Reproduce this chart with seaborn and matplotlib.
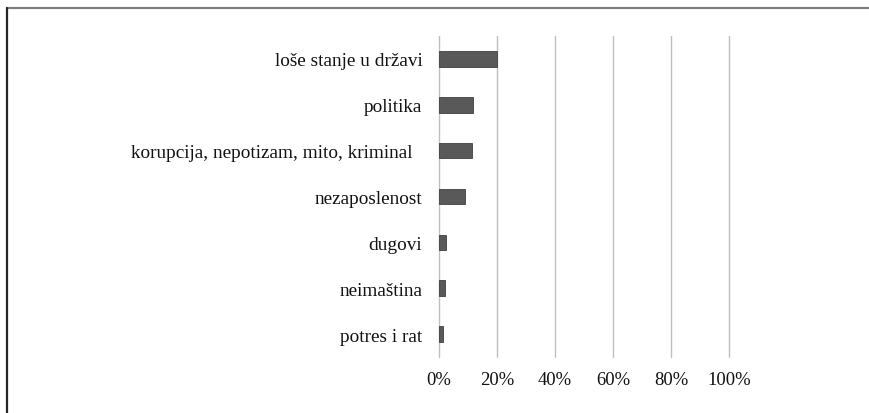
import matplotlib
matplotlib.use("Agg")
import matplotlib.pyplot as plt
import seaborn as sns
import pandas as pd
from matplotlib.lines import Line2D
from matplotlib.ticker import FuncFormatter

categories = ["loše stanje u državi", "politika",
              "korupcija, nepotizam, mito, kriminal  ", "nezaposlenost",
              "dugovi", "neimaština", "potres i rat"]
values = [20.0, 11.8, 11.3, 8.9, 2.3, 2.1, 1.3]
xticks = [0, 20, 40, 60, 80, 100]

df = pd.DataFrame({"category": categories, "value": values})

sns.set_theme(style="white")
plt.rcParams["font.family"] = ["Liberation Serif", "DejaVu Serif"]

fig = plt.figure(figsize=(8.69, 4.14), dpi=100)
ax = fig.add_axes([0.5052, 0.1353, 0.8389 - 0.5052, 0.9106 - 0.1353])

sns.barplot(data=df, x="value", y="category", order=categories, orient="h",
            color="#595959", width=0.34, saturation=1, edgecolor="#3f3f3f",
            linewidth=0.6, ax=ax, zorder=3)

ax.set_xlim(0, 100)
ax.set_ylim(len(categories) - 0.5, -0.5)
ax.set_xticks(xticks)
ax.xaxis.set_major_formatter(FuncFormatter(lambda v, p: f"{v:.0f}%"))
ax.grid(axis="x", color="#bfbfbf", linewidth=1.0, zorder=0)
ax.grid(axis="y", visible=False)
for gl in ax.get_xgridlines():
    gl.set_clip_on(False)
for s in ax.spines.values():
    s.set_visible(False)
ax.tick_params(axis="both", length=0)
ax.tick_params(axis="y", pad=12, labelsize=13.9, labelcolor="#111111")
ax.tick_params(axis="x", pad=10, labelsize=13.4, labelcolor="#111111")
ax.set_xlabel("")
ax.set_ylabel("")

# outer frame (top and left edges visible in the crop)
fig.add_artist(Line2D([0.0086, 1.0], [0.9783, 0.9783], transform=fig.transFigure,
                      color="#7f7f7f", linewidth=1.6))
fig.add_artist(Line2D([0.0086, 0.0086], [0.0, 0.9783], transform=fig.transFigure,
                      color="#262626", linewidth=1.6))

fig.savefig("out.png", dpi=100)
